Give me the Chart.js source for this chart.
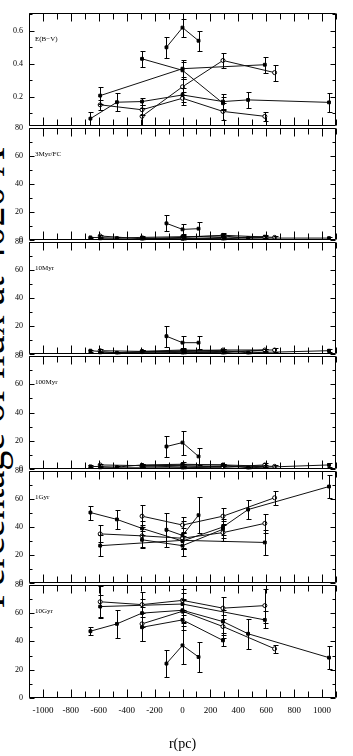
<!DOCTYPE html>
<html>
<head>
<meta charset="utf-8">
<script src="https://cdn.jsdelivr.net/npm/chart.js@4.4.0/dist/chart.umd.min.js"></script>
<style>
  html, body { margin: 0; padding: 0; background: #fff; }
  #wrap { position: relative; width: 353px; height: 756px; overflow: hidden; }
  #wrap canvas { position: absolute; left: 0; }
  #ytitle {
    position: absolute; left: -29px; top: 618px; width: 480px;
    text-align: center; white-space: nowrap;
    font: 40px "Liberation Serif", serif; line-height: 40px;
    transform-origin: 0 0; transform: rotate(-90deg);
  }
</style>
</head>
<body>
<div id="wrap">
  <div id="ytitle">Percentage of flux at 4020 Å</div>
</div>
<script>
// r (pc) of each aperture, one array per galaxy
const rS1 = [-115, 0, 115];
const rS2 = [-660, -470, -290, 0, 290, 470, 1050];
const rS3 = [-590, -290, 0, 290, 590];
const rS4 = [-590, 0, 590];
const rS5 = [-290, 0, 290, 660];
const rS6 = [-290, 0, 290];
const radii = [rS1, rS2, rS3, rS4, rS5, rS6];

const panelNames = ['E(B\u2212V)', '3Myr/FC', '10Myr', '100Myr', '1Gyr', '10Gyr'];

// values and errors, one inner array per galaxy (same order as radii)
const ebvVal = [[0.50, 0.62, 0.54], [0.066, 0.166, 0.17, 0.21, 0.17, 0.18, 0.165], [0.15, 0.12, 0.19, 0.11, 0.08], [0.206, 0.37, 0.394], [0.08, 0.26, 0.42, 0.346], [0.43, 0.36, 0.16]];
const ebvErr = [[0.065, 0.055, 0.06], [0.04, 0.054, 0.02, 0.04, 0.043, 0.05, 0.06], [0.03, 0.03, 0.04, 0.05, 0.028], [0.05, 0.05, 0.05], [0.05, 0.05, 0.048, 0.048], [0.05, 0.05, 0.04]];

const fcVal = [[12, 7.7, 8.2], [2.0, 1.5, 2.0, 2.5, 3.0, 1.5, 1.5], [3.0, 1.0, 1.5, 1.0, 2.0], [1.0, 0.5, 2.5], [1.0, 2.0, 3.5, 2.0], [1.5, 1.0, 2.0]];
const fcErr = [[5.8, 3.5, 4.9], [0.5, 0.8, 1, 1.5, 1.5, 1, 1], [0.8, 0.8, 1, 1, 1], [0.5, 0.5, 1], [0.5, 1, 1.5, 0.8], [0.8, 0.8, 1]];

const myr10Val = [[12.8, 8.2, 8.2], [2.5, 1.0, 2.0, 3.0, 2.5, 1.0, 2.5], [2.5, 2.0, 2.0, 1.0, 3.0], [1.0, 1.5, 2.5], [1.5, 2.5, 3.0, 3.0], [2.0, 1.0, 1.5]];
const myr10Err = [[7.4, 4.7, 4.4], [0.8, 0.8, 1, 1.5, 1, 0.8, 1], [1, 1, 1, 1, 1], [0.5, 0.8, 1], [0.8, 1, 1, 1.5], [0.8, 0.8, 1]];

const myr100Val = [[16, 18.8, 9], [2.0, 1.5, 3.0, 3.5, 3.0, 1.0, 3.0], [3.0, 2.5, 2.5, 1.5, 3.0], [1.0, 1.0, 2.0], [2.0, 3.0, 3.0, 2.0], [2.5, 1.5, 2.0]];
const myr100Err = [[7.3, 8.5, 5.8], [0.8, 0.8, 1, 1.5, 1, 0.8, 1.5], [1, 1, 1, 1, 1.5], [0.5, 0.8, 1], [0.8, 1, 1, 1], [0.8, 0.8, 1]];

const gyr1Val = [[38, 34, 48.4], [50.3, 45.4, 39, 30, 40, 52.4, 68.8], [35.1, 33.7, 32, 36, 42.6], [26.7, 30.5, 29], [47.7, 41.4, 47.7, 60.8], [30.9, 26.7, 38.4]];
const gyr1Err = [[12, 10, 13], [5, 6.7, 5, 6, 6, 7, 8], [6, 8, 7, 6, 7], [7.5, 6, 9], [8, 6, 6, 5], [6, 7, 6]];

const gyr10Val = [[24.3, 37.2, 29], [47.2, 52.4, 60, 62, 54, 45.4, 28.5], [68, 66, 69, 63.5, 65.3], [64.6, 66.4, 55.2], [52.4, 61.3, 50.5, 34.8], [50, 55.2, 40.7]];
const gyr10Err = [[9.4, 13.5, 10.3], [3, 10, 10, 8, 8, 10.5, 8], [11, 9, 8, 8, 12], [8, 8, 6], [12, 8, 8, 3], [10, 7, 4]];

const panelVals = [ebvVal, fcVal, myr10Val, myr100Val, gyr1Val, gyr10Val];
const panelErrs = [ebvErr, fcErr, myr10Err, myr100Err, gyr1Err, gyr10Err];

const xTicks = { min: -1100, max: 1100, step: 100, label: 200 };

// layout of the stacked panels (page pixels)
const panelTop = [12, 127, 241, 355, 470, 584, 698];
const PAD = 10;
const SERIF = '"Liberation Serif", serif';

const openMarker = [false, false, true, false, true, false];

function isStep(v, s) { return Math.abs(v / s - Math.round(v / s)) < 1e-6; }

const errorBars = {
  id: 'errorBars',
  afterDatasetsDraw(chart) {
    const ctx = chart.ctx, a = chart.chartArea;
    const xs = chart.scales.x, ys = chart.scales.y;
    ctx.save();
    ctx.beginPath();
    ctx.rect(a.left, a.top, a.right - a.left, a.bottom - a.top);
    ctx.clip();
    ctx.strokeStyle = '#000';
    ctx.lineWidth = 1;
    chart.data.datasets.forEach(ds => {
      ds.data.forEach((p, i) => {
        const e = ds.errors[i];
        const x = Math.round(xs.getPixelForValue(p.x)) + 0.5;
        const y1 = Math.round(ys.getPixelForValue(p.y + e)) + 0.5;
        const y2 = Math.round(ys.getPixelForValue(p.y - e)) + 0.5;
        ctx.beginPath();
        ctx.moveTo(x, y1); ctx.lineTo(x, y2);
        ctx.moveTo(x - 2, y1); ctx.lineTo(x + 3, y1);
        ctx.moveTo(x - 2, y2); ctx.lineTo(x + 3, y2);
        ctx.stroke();
      });
    });
    ctx.restore();
  }
};

const frame = {
  id: 'frame',
  afterDraw(chart, args, opts) {
    const ctx = chart.ctx, a = chart.chartArea;
    const xs = chart.scales.x, ys = chart.scales.y;
    const L = Math.round(a.left) + 0.5, R = Math.round(a.right) - 0.5;
    const T = Math.round(a.top) + 0.5, B = Math.round(a.bottom) - 0.5;
    ctx.save();
    ctx.strokeStyle = '#000';
    ctx.lineWidth = 1;
    ctx.beginPath();
    ctx.rect(L, T, R - L, B - T);
    xs.ticks.forEach(t => {
      if (!isStep(t.value, xTicks.step)) return;
      const x = Math.round(xs.getPixelForValue(t.value)) + 0.5;
      const len = isStep(t.value, xTicks.label) ? 8 : 6;
      ctx.moveTo(x, T); ctx.lineTo(x, T + len);
      ctx.moveTo(x, B); ctx.lineTo(x, B - len);
    });
    ys.ticks.forEach(t => {
      if (!isStep(t.value, opts.yStep)) return;
      const y = Math.round(ys.getPixelForValue(t.value)) + 0.5;
      const len = isStep(t.value, opts.yLabel) ? 5 : 3;
      ctx.moveTo(L, y); ctx.lineTo(L + len, y);
      ctx.moveTo(R, y); ctx.lineTo(R - len, y);
    });
    ctx.stroke();
    ctx.fillStyle = '#000';
    ctx.font = '7px ' + SERIF;
    ctx.textBaseline = 'middle';
    ctx.fillText(opts.label, a.left + 6, a.top + 26);
    ctx.restore();
  }
};

const wrap = document.getElementById('wrap');

panelNames.forEach((name, p) => {
  const last = p === panelNames.length - 1;
  const isEbv = p === 0;
  const top = panelTop[p] - PAD;
  const height = last ? 756 - top : panelTop[p + 1] - panelTop[p] + 2 * PAD;
  const canvas = document.createElement('canvas');
  canvas.width = 353;
  canvas.height = height;
  canvas.style.top = top + 'px';
  wrap.appendChild(canvas);

  const yStep = isEbv ? 0.1 : 10;
  const yLabel = isEbv ? 0.2 : 20;

  const datasets = radii.map((r, s) => ({
    data: r.map((x, i) => ({ x: x, y: panelVals[p][s][i] })),
    errors: panelErrs[p][s],
    showLine: true,
    borderColor: '#111',
    borderWidth: 1,
    pointStyle: openMarker[s] ? 'circle' : 'rect',
    pointRadius: 2,
    pointBorderWidth: 1,
    pointBorderColor: '#000',
    pointBackgroundColor: openMarker[s] ? '#fff' : '#000'
  }));

  new Chart(canvas, {
    type: 'scatter',
    data: { datasets: datasets },
    options: {
      responsive: false,
      animation: false,
      devicePixelRatio: 1,
      layout: { padding: { left: 0, right: 17, top: PAD, bottom: last ? 0 : PAD } },
      plugins: {
        legend: { display: false },
        tooltip: { enabled: false },
        frame: { label: name, yStep: yStep, yLabel: yLabel }
      },
      scales: {
        x: {
          type: 'linear',
          display: last,
          min: xTicks.min,
          max: xTicks.max,
          grid: { display: false, drawTicks: false },
          border: { display: false },
          ticks: {
            stepSize: xTicks.step,
            autoSkip: false,
            maxRotation: 0,
            padding: 7,
            color: '#000',
            font: { family: SERIF, size: 9 },
            callback: v => isStep(v, xTicks.label) ? String(v) : ''
          },
          title: {
            display: true,
            text: 'r(pc)',
            color: '#000',
            font: { family: SERIF, size: 14 },
            padding: { top: 0, bottom: 3 }
          },
          afterFit: scale => { if (last) scale.height = 58; }
        },
        y: {
          type: 'linear',
          min: isEbv ? 0.02 : 0,
          max: isEbv ? 0.71 : 80,
          grid: { display: false, drawTicks: false },
          border: { display: false },
          ticks: {
            stepSize: yStep,
            includeBounds: false,
            autoSkip: false,
            padding: 6,
            color: '#000',
            font: { family: SERIF, size: 8 },
            callback: v => isStep(v, yLabel) ? (isEbv ? v.toFixed(1) : String(v)) : ''
          },
          afterFit: scale => { scale.width = 29; }
        }
      }
    },
    plugins: [errorBars, frame]
  });
});
</script>
</body>
</html>
